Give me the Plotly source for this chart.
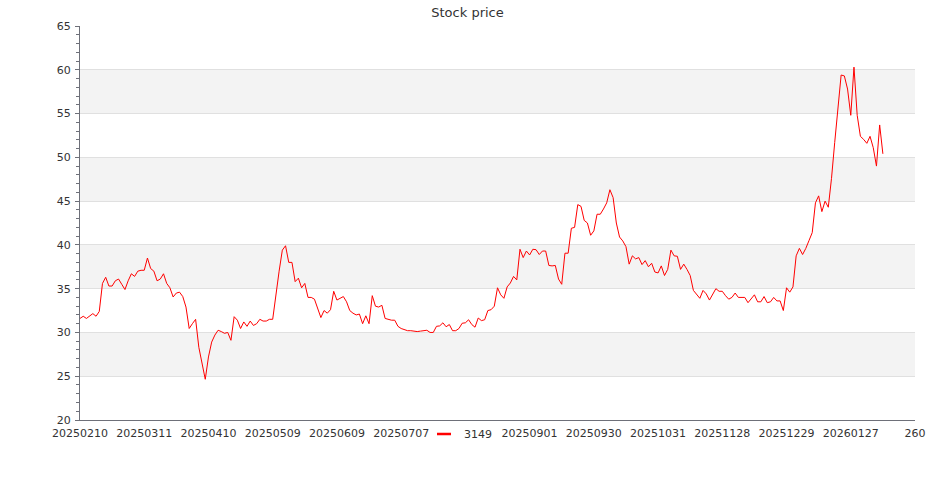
import plotly.graph_objects as go

# Daily closing prices for ticker 3149
prices = [
    31.6, 31.85, 31.6, 31.9, 32.15, 31.85, 32.4, 35.6, 36.3, 35.3,
    35.3, 35.9, 36.1, 35.5, 34.9, 35.9, 36.7, 36.4, 37.0, 37.1,
    37.1, 38.5, 37.3, 37.0, 35.9, 36.1, 36.7, 35.6, 35.1, 34.05,
    34.5, 34.6, 34.1, 32.9, 30.45, 31.0, 31.5, 28.3, 26.5, 24.65,
    27.2, 28.9, 29.7, 30.25, 30.1, 29.9, 30.0, 29.1, 31.8, 31.4,
    30.45, 31.2, 30.7, 31.3, 30.8, 31.0, 31.5, 31.3, 31.3, 31.5,
    31.5, 34.6, 37.0, 39.4, 39.9, 38.0, 38.0, 35.8, 36.2, 35.1,
    35.6, 34.0, 34.0, 33.8, 32.7, 31.7, 32.5, 32.2, 32.6, 34.7,
    33.7, 33.9, 34.1, 33.5, 32.5, 32.2, 32.0, 32.1, 31.0, 31.9,
    31.0, 34.2, 33.0, 32.9, 33.1, 31.6, 31.5, 31.4, 31.4, 30.7,
    30.45, 30.3, 30.2, 30.2, 30.15, 30.1, 30.15, 30.2, 30.25, 30.0,
    30.0, 30.7, 30.75, 31.1, 30.65, 30.9, 30.2, 30.2, 30.45, 31.05,
    31.1, 31.45, 30.9, 30.6, 31.65, 31.35, 31.45, 32.5, 32.6, 33.0,
    35.1, 34.3, 33.9, 35.2, 35.65, 36.4, 36.0, 39.5, 38.55, 39.3,
    38.85, 39.5, 39.45, 38.9, 39.3, 39.3, 37.65, 37.6, 37.65, 36.1,
    35.5, 39.05, 39.05, 41.9, 42.0, 44.6, 44.4, 42.8, 42.5, 41.1,
    41.6, 43.5, 43.5, 44.1, 44.8, 46.3, 45.4, 42.5, 40.9, 40.45,
    39.8, 37.8, 38.75, 38.4, 38.55, 37.75, 38.2, 37.5, 37.9, 36.9,
    36.8, 37.6, 36.5, 37.2, 39.4, 38.75, 38.7, 37.2, 37.8, 37.2,
    36.5, 34.8, 34.4, 33.9, 34.8, 34.4, 33.7, 34.3, 35.0, 34.7,
    34.7, 34.2, 33.8, 34.0, 34.5, 34.0, 34.0, 34.0, 33.4, 33.9,
    34.3, 33.5, 33.5, 34.1, 33.4, 33.5, 34.0, 33.6, 33.6, 32.5,
    35.1, 34.6, 35.2, 38.75, 39.6, 38.9, 39.6, 40.5, 41.4, 44.8,
    45.6, 43.8, 45.0, 44.3, 47.6, 51.7, 55.55, 59.4, 59.3, 57.8,
    54.8, 60.3, 54.8, 52.4, 52.05, 51.6, 52.4, 51.1, 49.0, 53.7,
    50.4,
]

# x-axis category labels (one every 20 trading days); the one under the legend is hidden
tick_labels = [
    "20250210", "20250311", "20250410", "20250509", "20250609", "20250707",
    "", "20250901", "20250930", "20251031", "20251128", "20251229",
    "20260127", "260",
]
n_categories = 261
label_step = 20
series_name = "3149"
title_text = "Stock price"

y_min, y_max, y_step = 20, 65, 5

x_idx = list(range(len(prices)))
tick_vals = list(range(0, n_categories, label_step))

FONT = "DejaVu Sans"
TXT = "#333333"
RED = "#ff0000"

fig = go.Figure()
fig.add_trace(go.Scatter(
    x=x_idx, y=prices, mode="lines", name=series_name, showlegend=False,
    line=dict(color=RED, width=1), legendgroup="s",
))
# legend entry with a short line icon (like the original legend)
fig.add_trace(go.Scatter(
    x=[None], y=[None], mode="markers", name=series_name, legendgroup="s",
    marker=dict(symbol="line-ew", size=10, color=RED, line=dict(color=RED, width=2.5)),
    hoverinfo="skip",
))

# alternating split-area bands
shapes = []
for k, lo in enumerate(range(y_min, y_max, y_step)):
    if k % 2 == 1:
        shapes.append(dict(
            type="rect", xref="paper", yref="y", x0=0, x1=1, y0=lo, y1=lo + y_step,
            fillcolor="#f3f3f3", line=dict(width=0), layer="below",
        ))

fig.update_layout(
    width=935, height=500,
    margin=dict(l=80, r=20, t=26, b=80, autoexpand=False),
    paper_bgcolor="white", plot_bgcolor="white",
    shapes=shapes,
    title=dict(
        text=title_text, x=0.5, xref="container", xanchor="center",
        y=1 - 12 / 500, yref="container", yanchor="middle",
        font=dict(family=FONT, size=13, color=TXT),
    ),
    showlegend=True,
    legend=dict(
        orientation="h", x=(424 - 80) / 835, xanchor="left",
        y=-(434 - 420) / 394, yanchor="middle",
        font=dict(family=FONT, size=11, color=TXT),
        bgcolor="rgba(0,0,0,0)", itemwidth=30,
    ),
    font=dict(family=FONT, size=11, color=TXT),
)

fig.update_xaxes(
    range=[0, n_categories - 1], tickvals=tick_vals, ticktext=tick_labels,
    showgrid=False, zeroline=False, showline=True, linecolor="#6e7079", linewidth=1,
    ticks="", tickfont=dict(family=FONT, size=11, color=TXT),
    automargin=False, ticklabelstandoff=3, fixedrange=True,
)
fig.update_yaxes(
    range=[y_min, y_max], dtick=y_step, tick0=y_min,
    showgrid=True, gridcolor="#e0e0e0", gridwidth=1, zeroline=False,
    showline=True, linecolor="#6e7079", linewidth=1,
    ticks="outside", ticklen=4, tickcolor="#6e7079",
    minor=dict(dtick=1, ticks="outside", ticklen=3, tickcolor="#6e7079", showgrid=False),
    tickfont=dict(family=FONT, size=11, color=TXT),
    automargin=False, ticklabelstandoff=2,
)

fig.write_html(
    "out.html",
    config={"displayModeBar": False},
    post_script="document.body.style.margin='0';document.body.style.padding='0';",
)
